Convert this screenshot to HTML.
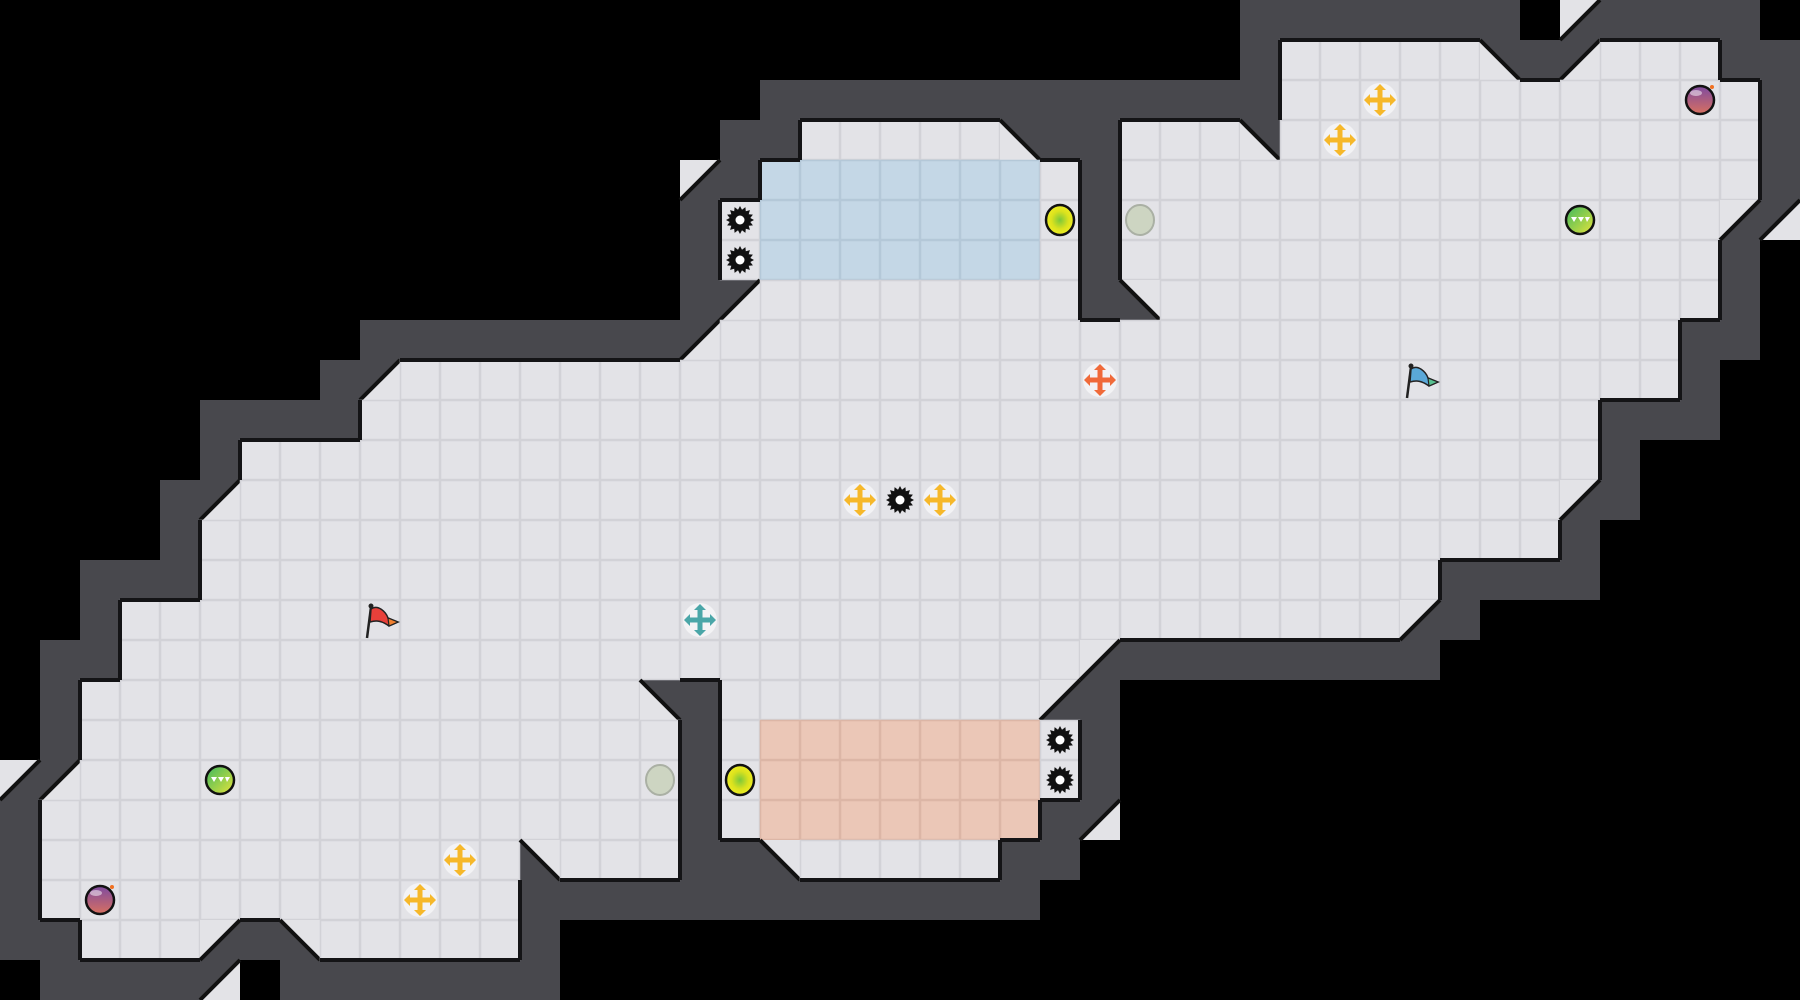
<!DOCTYPE html>
<html><head><meta charset="utf-8"><style>
html,body{margin:0;padding:0;background:#000;width:1800px;height:1000px;overflow:hidden}
svg{display:block}
</style></head><body>
<svg id="s" width="1800" height="1000" xmlns="http://www.w3.org/2000/svg">
<defs>
<radialGradient id="gy" cx="50%" cy="50%" r="50%"><stop offset="0" stop-color="#7cc83a"/><stop offset="0.6" stop-color="#dbe21e"/><stop offset="1" stop-color="#eeee22"/></radialGradient>
<linearGradient id="gg" x1="0" y1="0" x2="1" y2="1"><stop offset="0" stop-color="#3cb860"/><stop offset="1" stop-color="#e6e43a"/></linearGradient>
<linearGradient id="gp" x1="0" y1="0" x2="0" y2="1"><stop offset="0" stop-color="#7e4aa0"/><stop offset="1" stop-color="#d87060"/></linearGradient>
</defs>
</svg>
<script>
var rows=[
 [[31,37,'#'],[39,39,'1'],[40,43,'#']],
 [[31,31,'#'],[32,36,'.'],[37,37,'3'],[38,38,'#'],[39,39,'4'],[40,42,'.'],[43,44,'#']],
 [[19,31,'#'],[32,43,'.'],[44,44,'#']],
 [[18,19,'#'],[20,24,'.'],[25,25,'3'],[26,27,'#'],[28,30,'.'],[31,31,'3'],[32,43,'.'],[44,44,'#']],
 [[17,17,'1'],[18,18,'#'],[19,25,'b'],[26,26,'.'],[27,27,'#'],[28,43,'.'],[44,44,'#']],
 [[17,17,'#'],[18,18,'.'],[19,25,'b'],[26,26,'.'],[27,27,'#'],[28,42,'.'],[43,43,'1'],[44,44,'4']],
 [[17,17,'#'],[18,18,'.'],[19,25,'b'],[26,26,'.'],[27,27,'#'],[28,42,'.'],[43,43,'#']],
 [[17,17,'#'],[18,18,'4'],[19,26,'.'],[27,27,'#'],[28,28,'2'],[29,42,'.'],[43,43,'#']],
 [[9,16,'#'],[17,17,'4'],[18,41,'.'],[42,43,'#']],
 [[8,8,'#'],[9,9,'4'],[10,41,'.'],[42,42,'#']],
 [[5,8,'#'],[9,39,'.'],[40,42,'#']],
 [[5,5,'#'],[6,39,'.'],[40,40,'#']],
 [[4,4,'#'],[5,5,'4'],[6,38,'.'],[39,39,'1'],[40,40,'#']],
 [[4,4,'#'],[5,38,'.'],[39,39,'#']],
 [[2,4,'#'],[5,35,'.'],[36,39,'#']],
 [[2,2,'#'],[3,34,'.'],[35,35,'1'],[36,36,'#']],
 [[1,2,'#'],[3,26,'.'],[27,27,'1'],[28,35,'#']],
 [[1,1,'#'],[2,15,'.'],[16,16,'3'],[17,17,'#'],[18,25,'.'],[26,26,'1'],[27,27,'#']],
 [[1,1,'#'],[2,16,'.'],[17,17,'#'],[18,18,'.'],[19,25,'r'],[26,26,'.'],[27,27,'#']],
 [[0,0,'1'],[1,1,'4'],[2,16,'.'],[17,17,'#'],[18,18,'.'],[19,25,'r'],[26,26,'.'],[27,27,'#']],
 [[0,0,'#'],[1,16,'.'],[17,17,'#'],[18,18,'.'],[19,25,'r'],[26,26,'#'],[27,27,'4']],
 [[0,0,'#'],[1,12,'.'],[13,13,'2'],[14,16,'.'],[17,18,'#'],[19,19,'2'],[20,24,'.'],[25,26,'#']],
 [[0,0,'#'],[1,12,'.'],[13,25,'#']],
 [[0,1,'#'],[2,4,'.'],[5,5,'1'],[6,6,'#'],[7,7,'2'],[8,12,'.'],[13,13,'#']],
 [[1,4,'#'],[5,5,'4'],[7,13,'#']]
];
var M=[];for(var r=0;r<25;r++){M.push([]);for(var c=0;c<45;c++)M[r].push(' ');rows[r].forEach(function(s){for(var c=s[0];c<=s[1];c++)M[r][c]=s[2];});}
var T=40,out=[],WALL='#48484d',FL='#e3e3e7',FS='#d2d2d7';
function g(r,c){if(r<0||r>=25||c<0||c>=45)return ' ';return M[r][c];}
function isF(ch){return ch=='.'||ch=='b'||ch=='r';}
function fillOf(ch){return ch=='b'?'#c4d7e6':ch=='r'?'#ebc7b7':FL;}
function strokeOf(ch){return ch=='b'?'#b4c8d8':ch=='r'?'#dcb6a6':FS;}
// walls & diag backgrounds
for(var r=0;r<25;r++)for(var c=0;c<45;c++){var ch=M[r][c],x=c*T,y=r*T;
 if(ch=='#'||'1234'.indexOf(ch)>=0)out.push('<rect x="'+x+'" y="'+y+'" width="40" height="40" fill="'+WALL+'"/>');}
// floors
for(var r=0;r<25;r++)for(var c=0;c<45;c++){var ch=M[r][c],x=c*T,y=r*T;
 if(isF(ch)){out.push('<rect x="'+(x+0.5)+'" y="'+(y+0.5)+'" width="39" height="39" fill="'+fillOf(ch)+'" stroke="'+strokeOf(ch)+'" stroke-width="1.5"/>');}
 else if('1234'.indexOf(ch)>=0){var p;
  if(ch=='1')p=[x,y,x+40,y,x,y+40];if(ch=='2')p=[x,y,x+40,y,x+40,y+40];
  if(ch=='3')p=[x,y,x,y+40,x+40,y+40];if(ch=='4')p=[x+40,y,x+40,y+40,x,y+40];
  out.push('<polygon points="'+p.join(',')+'" fill="'+FL+'"/>');
  var l=(ch=='1'||ch=='4')?[x+40,y,x,y+40]:[x,y,x+40,y+40];
  out.push('<line x1="'+l[0]+'" y1="'+l[1]+'" x2="'+l[2]+'" y2="'+l[3]+'" stroke="#111" stroke-width="4"/>');}
}
// outlines where floor meets wall
for(var r=0;r<25;r++)for(var c=0;c<45;c++){var ch=M[r][c],x=c*T,y=r*T;if(!isF(ch))continue;
 var d=[[-1,0,x,y-2,40,4],[1,0,x,y+38,40,4],[0,-1,x-2,y,4,40],[0,1,x+38,y,4,40]];
 d.forEach(function(e){if(g(r+e[0],c+e[1])=='#')out.push('<rect x="'+e[2]+'" y="'+e[3]+'" width="'+e[4]+'" height="'+e[5]+'" fill="#141416"/>');});}
function C(c,r){return [(c+0.5)*T,(r+0.5)*T];}
function boost(c,r,col){var p=C(c,r),x=p[0],y=p[1];
 return '<g transform="translate('+x+','+y+')"><circle r="17" fill="#f4f4f6" opacity="0.9"/>'+
 '<path d="M-13 0H13M0 -13V13" stroke="'+col+'" stroke-width="5"/>'+
 '<path d="M-16 0l6-6v12zM16 0l-6-6v12zM0 -16l-6 6h12zM0 16l-6-6h12z" fill="'+col+'"/></g>';}
function gear(c,r){var p=C(c,r),pts=[];for(var i=0;i<32;i++){var a=i*Math.PI/16,R=i%2?10.5:14;pts.push((p[0]+R*Math.cos(a)).toFixed(1)+','+(p[1]+R*Math.sin(a)).toFixed(1));}
 return '<polygon points="'+pts.join(' ')+'" fill="#111"/><circle cx="'+p[0]+'" cy="'+p[1]+'" r="4.5" fill="#fff"/>';}
function yball(c,r){var p=C(c,r);return '<ellipse cx="'+p[0]+'" cy="'+p[1]+'" rx="14" ry="15" fill="url(#gy)" stroke="#111" stroke-width="2.5"/>';}
function gdisc(c,r){var p=C(c,r);return '<ellipse cx="'+p[0]+'" cy="'+p[1]+'" rx="14" ry="15" fill="#cdd5c2" stroke="#aab0a4" stroke-width="2"/>';}
function gball(c,r){var p=C(c,r),x=p[0],y=p[1];return '<circle cx="'+x+'" cy="'+y+'" r="14" fill="url(#gg)" stroke="#111" stroke-width="2.5"/><path d="M'+(x-9)+' '+(y-3)+'h6l-3 5zM'+(x-2)+' '+(y-3)+'h6l-3 5zM'+(x+5)+' '+(y-3)+'h5l-3 5z" fill="#fff"/>';}
function bomb(c,r){var p=C(c,r),x=p[0],y=p[1];return '<circle cx="'+x+'" cy="'+y+'" r="14" fill="url(#gp)" stroke="#111" stroke-width="2.5"/><ellipse cx="'+(x-4)+'" cy="'+(y-7)+'" rx="6" ry="3" fill="#fff" opacity="0.5"/><circle cx="'+(x+12)+'" cy="'+(y-13)+'" r="2" fill="#f07020"/>';}
function flag(c,r,col,tail){var p=C(c,r),x=p[0],y=p[1];return '<line x1="'+(x-13)+'" y1="'+(y+18)+'" x2="'+(x-9)+'" y2="'+(y-13)+'" stroke="#222" stroke-width="2.5"/><circle cx="'+(x-9)+'" cy="'+(y-14)+'" r="2.5" fill="#222"/><path d="M'+(x-9)+' '+(y-11)+'C'+(x-2)+' '+(y-16)+' '+(x+6)+' '+(y-8)+' '+(x+8)+' '+(y-2)+'L'+(x+18)+' '+(y+2)+'L'+(x+9)+' '+(y+6)+'C'+(x+2)+' '+(y+1)+' '+(x-3)+' '+(y)+' '+(x-10)+' '+(y+2)+'Z" fill="'+col+'" stroke="#222" stroke-width="1.5"/><path d="M'+(x+8)+' '+(y-2)+'L'+(x+18)+' '+(y+2)+'L'+(x+9)+' '+(y+6)+'Z" fill="'+tail+'" stroke="#222" stroke-width="1.2"/>';}
out.push(gear(18,5),gear(18,6),gear(26,18),gear(26,19),gear(22,12));
out.push(yball(26,5),yball(18,19),gdisc(28,5),gdisc(16,19),gball(39,5),gball(5,19),bomb(42,2),bomb(2,22));
var Y='#f6b82a';
out.push(boost(34,2,Y),boost(33,3,Y),boost(21,12,Y),boost(23,12,Y),boost(11,21,Y),boost(10,22,Y),boost(27,9,'#f06a3a'),boost(17,15,'#4aa6a8'));
out.push(flag(9,15,'#e8403a','#f08030'),flag(35,9,'#5aa8d8','#58c090'));
document.getElementById('s').insertAdjacentHTML('beforeend',out.join(''));
</script>
</body></html>
